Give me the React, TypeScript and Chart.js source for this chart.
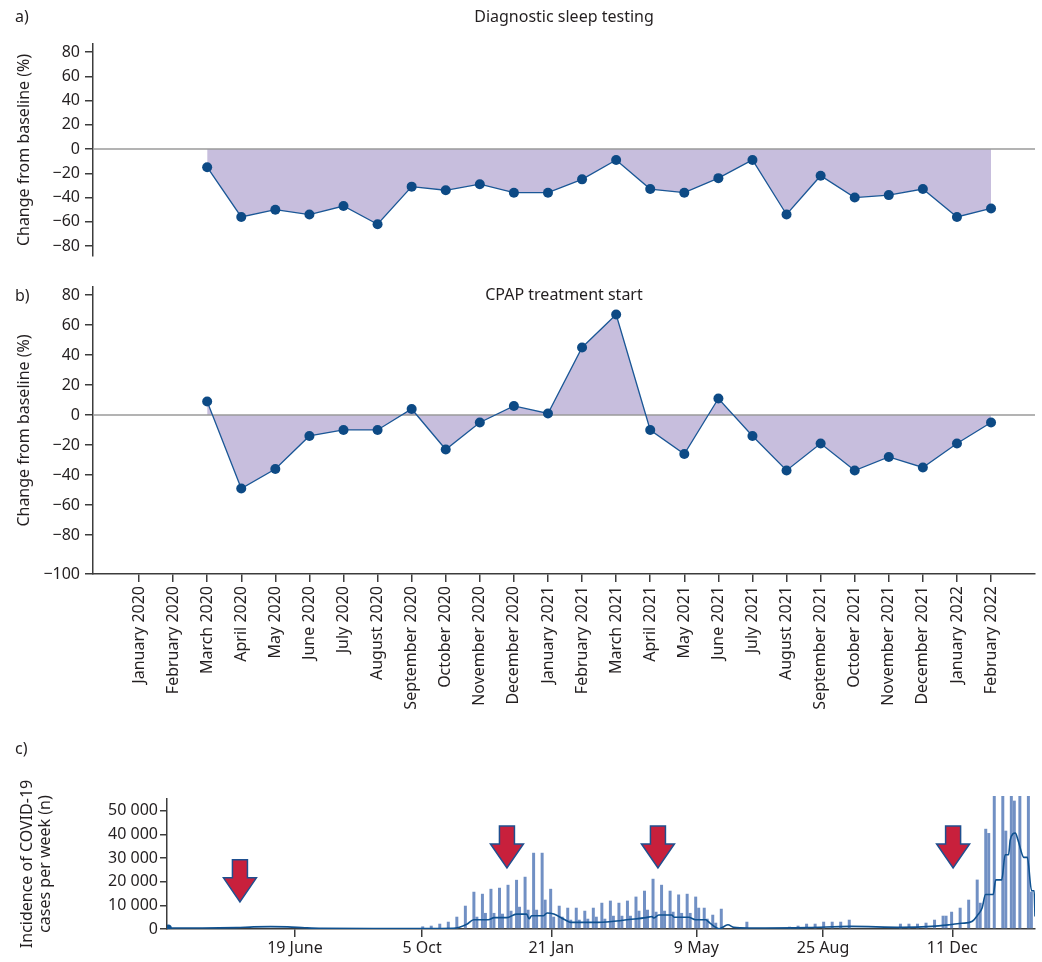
import React, { useEffect, useRef } from 'react';
import { Chart, registerables } from 'chart.js';
Chart.register(...registerables);

const FONT = '"Noto Sans", sans-serif';
const TEXT = '#231f20';
const AXIS = '#3c3c3c';
const ZERO = '#9a9a9a';
const LINE = '#1a5796';
const POINT = '#0d4a85';
const FILL = '#c7bedd';
const BAR = '#7190c4';
const TREND = '#0f5190';
const ARROW_FILL = '#c8203c';
const ARROW_EDGE = '#1f4f8f';

// Panels a/b: monthly categories
const monthLabels = [
  'January 2020', 'February 2020', 'March 2020', 'April 2020', 'May 2020', 'June 2020',
  'July 2020', 'August 2020', 'September 2020', 'October 2020', 'November 2020', 'December 2020',
  'January 2021', 'February 2021', 'March 2021', 'April 2021', 'May 2021', 'June 2021',
  'July 2021', 'August 2021', 'September 2021', 'October 2021', 'November 2021', 'December 2021',
  'January 2022', 'February 2022',
];
const firstDataMonth = 2; // March 2020
const sleepTesting = [-15, -56, -50, -54, -47, -62, -31, -34, -29, -36, -36, -25, -9, -33, -36, -24, -9, -54, -22, -40, -38, -33, -56, -49];
const cpapStart = [9, -49, -36, -14, -10, -10, 4, -23, -5, 6, 1, 45, 67, -10, -26, 11, -14, -37, -19, -37, -28, -35, -19, -5];
const yTicksA = [-80, -60, -40, -20, 0, 20, 40, 60, 80];
const yTicksB = [-80, -60, -40, -20, 0, 20, 40, 60, 80];
const bottomTickB = -106;
const bottomTickBLabel = '\u2212100';

// Panel c: weekly incidence (index = week)
const weeklyCasesA = [
  0, 0, 0, 0, 0, 0, 0, 0, 0, 0, 0, 0, 0, 0, 0, 0, 0, 0, 0, 0, 0, 0, 0, 0, 0, 0, 0, 0, 0, 0,
  1100, 1400, 2240, 3080, 5200, 9850,
  15760, 14900, 17000, 17450, 18700, 20800, 22100, 32250, 32250, 17000,
  9850, 9000, 9000, 7730, 9000, 11100, 12000, 11100, 12000, 13700,
  16200, 21250, 18700, 16200, 14600, 14900, 13700, 9000, 6040, 8570,
  0, 0, 3080, 0, 0, 0, 0, 970, 1400, 2240,
  2240, 3080, 3080, 3080, 3930, 0, 0, 0, 0, 0,
  2240, 2240, 2240, 2660, 3930, 5620, 7300, 9000, 12400, 20900,
  42400, 60000, 60000, 60000, 60000, 60000,
];
const weeklyCasesB = [
  0, 0, 0, 0, 0, 0, 0, 0, 0, 0, 0, 0, 0, 0, 0, 0, 0, 0, 0, 0, 0, 0, 0, 0, 0, 0, 0, 0, 0, 0,
  0, 0, 0, 0, 0, 0,
  5200, 6800, 6800, 6470, 7730, 9400, 8150, 8150, 12400, 5200,
  5200, 3930, 3930, 4350, 5200, 4350, 5600, 5600, 5600, 7730,
  8150, 7300, 7730, 7300, 6800, 6800, 9000, 4350, 2660, 0,
  0, 0, 0, 0, 0, 0, 0, 0, 0, 0,
  0, 0, 0, 0, 0, 0, 0, 0, 0, 0,
  0, 0, 0, 0, 0, 5620, 0, 0, 0, 11100,
  40600, 0, 41600, 54300, 0, 15800,
];
const trendWeek = [0, 4, 8, 10, 12, 14, 16, 18, 24, 30, 33.4, 35, 35.8, 37.5, 38.2, 39.7, 40.8, 42, 42.3, 42.6, 44, 44.4, 45.2, 46.5, 47.2, 50, 52, 54, 56, 56.7, 56.9, 57.5, 59, 59.3, 61, 61.8, 63, 63.5, 64.6, 65.6, 66.3, 68, 75, 80, 86, 89.5, 91.6, 93, 94.2, 94.9, 95.4, 95.8, 96.7, 97, 97.7, 98.1, 98.5, 98.7, 99.3, 99.6, 100.3, 100.7, 101.2, 101.5, 101.6];
const trendCases = [400, 400, 600, 900, 1000, 900, 500, 250, 200, 200, 300, 2000, 3930, 3930, 4800, 4800, 6300, 6300, 4350, 5600, 5600, 6800, 6300, 3930, 2800, 2800, 3200, 4000, 4800, 5300, 4650, 5900, 5900, 5000, 5000, 3930, 3930, 2500, 130, 1800, 700, 420, 600, 1100, 700, 1100, 1800, 2400, 3200, 6000, 8900, 14600, 14600, 20800, 20800, 31400, 31400, 37700, 40600, 37700, 30300, 30300, 16200, 16200, 5300];
const cTickWeeks = [14.85, 29.75, 44.9, 61.9, 76.75, 91.9];
const cTickLabels = ['19 June', '5 Oct', '21 Jan', '9 May', '25 Aug', '11 Dec'];
const cYTicks = [0, 10000, 20000, 30000, 40000, 50000];
const arrowWeeks = [8.4, 39.7, 57.4, 92];
const arrowTips = [11500, 25800, 25800, 25800];

const fmtSigned = (v: number) => (v < 0 ? '\u2212' + Math.abs(v) : String(v));
const fmtThousands = (v: number) => String(v).replace(/\B(?=(\d{3})+(?!\d))/g, '\u00a0');

const font16 = { family: FONT, size: 16 };

const titlePlugin = (text: string, y: number) => ({
  id: 'panelTitle',
  afterDraw(chart: any) {
    const { ctx, chartArea } = chart;
    ctx.save();
    ctx.font = `16px ${FONT}`;
    ctx.fillStyle = TEXT;
    ctx.textAlign = 'center';
    ctx.textBaseline = 'middle';
    ctx.fillText(text, (chartArea.left + chartArea.right) / 2, y);
    ctx.restore();
  },
});

const arrowPlugin = {
  id: 'arrows',
  afterDatasetsDraw(chart: any) {
    const { ctx, scales } = chart;
    const xs = scales.x;
    const ys = scales.y;
    arrowWeeks.forEach((w, i) => {
      const cx = xs.getPixelForValue(w);
      const tip = ys.getPixelForValue(arrowTips[i]);
      const H = 42, headH = 24, shaftW = 15, headW = 33;
      ctx.save();
      ctx.beginPath();
      ctx.moveTo(cx - shaftW / 2, tip - H);
      ctx.lineTo(cx + shaftW / 2, tip - H);
      ctx.lineTo(cx + shaftW / 2, tip - headH);
      ctx.lineTo(cx + headW / 2, tip - headH);
      ctx.lineTo(cx, tip);
      ctx.lineTo(cx - headW / 2, tip - headH);
      ctx.lineTo(cx - shaftW / 2, tip - headH);
      ctx.closePath();
      ctx.fillStyle = ARROW_FILL;
      ctx.fill();
      ctx.lineWidth = 1.5;
      ctx.strokeStyle = ARROW_EDGE;
      ctx.lineJoin = 'miter';
      ctx.stroke();
      ctx.restore();
    });
  },
};

const xMinAB = -1.35;
const xMaxAB = 26.29;

function monthlyConfig(values: number[], opts: { title: string; titleY: number; yMin: number; yMax: number; showX: boolean; padTop: number; padBottom: number; xHeight: number; yTicks: number[]; extraBottom?: boolean }) {
  const pts = values.map((v, i) => ({ x: i + firstDataMonth, y: v }));
  return {
    type: 'line',
    data: {
      datasets: [
        {
          data: pts,
          borderColor: LINE,
          borderWidth: 1.3,
          backgroundColor: FILL,
          fill: 'origin',
          pointRadius: 5,
          pointBackgroundColor: POINT,
          pointBorderWidth: 0,
          tension: 0,
          order: 0,
        },
        {
          data: [{ x: xMinAB, y: 0 }, { x: xMaxAB, y: 0 }],
          borderColor: ZERO,
          borderWidth: 1.5,
          pointRadius: 0,
          fill: false,
          order: 1,
        },
      ],
    },
    options: {
      responsive: false,
      animation: false,
      layout: { padding: { top: opts.padTop, right: 7, bottom: opts.padBottom, left: 0 } },
      plugins: {
        legend: { display: false },
        tooltip: { enabled: false },
        filler: { drawTime: 'beforeDatasetsDraw' },
      },
      scales: {
        x: {
          type: 'linear',
          min: xMinAB,
          max: xMaxAB,
          display: opts.showX,
          afterBuildTicks: (s: any) => {
            s.ticks = monthLabels.map((_, i) => ({ value: i }));
          },
          afterFit: (s: any) => {
            s.height = opts.xHeight;
          },
          ticks: {
            autoSkip: false,
            minRotation: 90,
            maxRotation: 90,
            padding: 4,
            color: TEXT,
            font: font16,
            callback: (v: number) => monthLabels[Math.round(v)] ?? '',
          },
          grid: { drawOnChartArea: false, tickLength: 8, color: AXIS, lineWidth: 1.5, offset: false },
          border: { color: AXIS, width: 1.5 },
        },
        y: {
          type: 'linear',
          min: opts.yMin,
          max: opts.yMax,
          afterBuildTicks: (s: any) => {
            const t = opts.yTicks.map((v) => ({ value: v }));
            if (opts.extraBottom) t.unshift({ value: bottomTickB });
            s.ticks = t;
          },
          afterFit: (s: any) => {
            s.width = 93;
            s.paddingTop = 0;
            s.paddingBottom = 0;
          },
          ticks: {
            padding: 5,
            color: TEXT,
            font: font16,
            callback: (v: number) => (v === bottomTickB ? bottomTickBLabel : fmtSigned(v)),
          },
          grid: { drawOnChartArea: false, tickLength: 8, color: AXIS, lineWidth: 1.5 },
          border: { color: AXIS, width: 1.5 },
          title: {
            display: true,
            text: 'Change from baseline (%)',
            color: TEXT,
            font: { family: FONT, size: 16, lineHeight: 1.2 },
            padding: { top: 15, bottom: 0 },
          },
        },
      },
    },
    plugins: [titlePlugin(opts.title, opts.titleY)],
  };
}

function weeklyConfig() {
  const barsA = weeklyCasesA.map((v, i) => ({ x: i, y: v }));
  const barsB = weeklyCasesB.map((v, i) => ({ x: i, y: v }));
  const trend = trendWeek.map((w, i) => ({ x: w, y: trendCases[i] }));
  const clip = { left: 0, top: 3, right: 0, bottom: 0 };
  return {
    type: 'bar',
    data: {
      datasets: [
        {
          type: 'line',
          data: trend,
          borderColor: TREND,
          borderWidth: 1.6,
          pointRadius: trend.map((_, i) => (i === 0 ? 3.5 : 0)),
          pointBackgroundColor: TREND,
          pointBorderWidth: 0,
          cubicInterpolationMode: 'monotone',
          fill: false,
          order: 0,
        },
        {
          type: 'bar',
          data: barsA,
          backgroundColor: BAR,
          borderWidth: 0,
          categoryPercentage: 0.7,
          barPercentage: 1,
          clip,
          order: 1,
        },
        {
          type: 'bar',
          data: barsB,
          backgroundColor: BAR,
          borderWidth: 0,
          categoryPercentage: 0.7,
          barPercentage: 1,
          clip,
          order: 1,
        },
      ],
    },
    options: {
      responsive: false,
      animation: false,
      layout: { padding: { top: 79, right: 7, bottom: 0, left: 0 } },
      plugins: { legend: { display: false }, tooltip: { enabled: false } },
      scales: {
        x: {
          type: 'linear',
          min: -0.15,
          max: 101.6,
          offset: false,
          afterBuildTicks: (s: any) => {
            s.ticks = cTickWeeks.map((v) => ({ value: v }));
          },
          afterFit: (s: any) => {
            s.height = 33;
          },
          ticks: {
            autoSkip: false,
            maxRotation: 0,
            minRotation: 0,
            padding: 2,
            color: TEXT,
            font: font16,
            callback: (_v: number, i: number) => cTickLabels[i] ?? '',
          },
          grid: { drawOnChartArea: false, tickLength: 8, color: AXIS, lineWidth: 1.5, offset: false },
          border: { color: AXIS, width: 1.5 },
        },
        y: {
          type: 'linear',
          min: 0,
          max: 55000,
          afterBuildTicks: (s: any) => {
            s.ticks = cYTicks.map((v) => ({ value: v }));
          },
          afterFit: (s: any) => {
            s.width = 167;
          },
          ticks: {
            padding: 2,
            color: TEXT,
            font: font16,
            callback: (v: number) => fmtThousands(v),
          },
          grid: { drawOnChartArea: false, tickLength: 7, color: AXIS, lineWidth: 1.5 },
          border: { color: AXIS, width: 1.5 },
          title: {
            display: true,
            text: ['Incidence of COVID-19', 'cases per week (n)'],
            color: TEXT,
            font: { family: FONT, size: 16, lineHeight: 1.1 },
            padding: { top: 19, bottom: 0 },
          },
        },
      },
    },
    plugins: [arrowPlugin],
  };
}

export default function App() {
  const refA = useRef<HTMLCanvasElement>(null);
  const refB = useRef<HTMLCanvasElement>(null);
  const refC = useRef<HTMLCanvasElement>(null);

  useEffect(() => {
    const charts: Chart[] = [];
    if (refA.current) {
      charts.push(
        new Chart(refA.current, monthlyConfig(sleepTesting, {
          title: 'Diagnostic sleep testing', titleY: 17, yMin: -88.2, yMax: 86.6, showX: false,
          padTop: 44, padBottom: 6, xHeight: 0, yTicks: yTicksA,
        }) as any)
      );
    }
    if (refB.current) {
      charts.push(
        new Chart(refB.current, monthlyConfig(cpapStart, {
          title: 'CPAP treatment start', titleY: 33, yMin: bottomTickB, yMax: 85.3, showX: true,
          padTop: 25, padBottom: 0, xHeight: 146, yTicks: yTicksB, extraBottom: true,
        }) as any)
      );
    }
    if (refC.current) {
      charts.push(new Chart(refC.current, weeklyConfig() as any));
    }
    return () => charts.forEach((c) => c.destroy());
  }, []);

  const label = (t: string, top: number) => (
    <div style={{ position: 'absolute', left: 15, top, fontFamily: FONT, fontSize: 16, lineHeight: '20px', color: TEXT }}>{t}</div>
  );

  return (
    <div style={{ position: 'fixed', left: 0, top: 0, width: 1042, height: 962, background: '#fff', overflow: 'hidden' }}>
      <canvas ref={refA} width={1042} height={262} style={{ position: 'absolute', left: 0, top: 0 }} />
      <canvas ref={refB} width={1042} height={458} style={{ position: 'absolute', left: 0, top: 262 }} />
      <canvas ref={refC} width={1042} height={242} style={{ position: 'absolute', left: 0, top: 720 }} />
      {label('a)', 6)}
      {label('b)', 285)}
      {label('c)', 738)}
    </div>
  );
}
